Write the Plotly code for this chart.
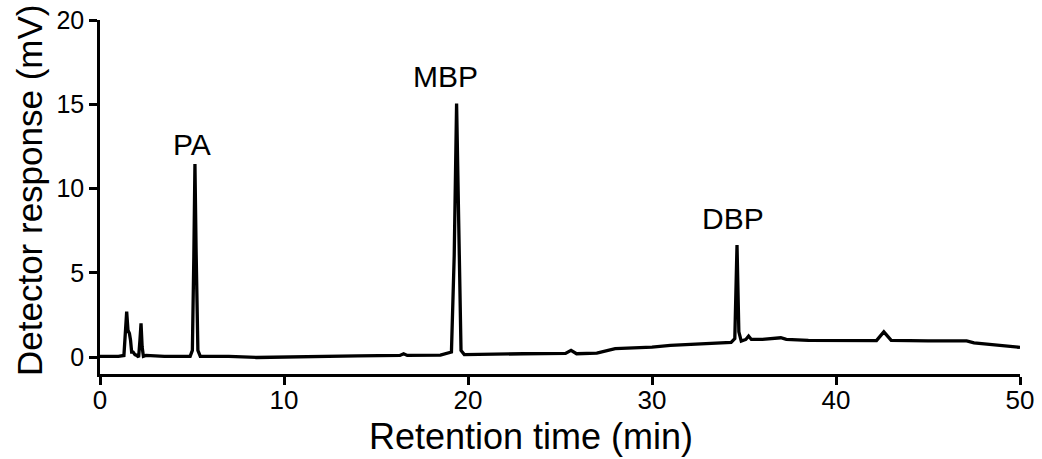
import plotly.graph_objects as go

# Chromatogram trace (retention time in min, detector response in mV)
retention_time = [0.0, 1.0, 1.3, 1.38, 1.45, 1.52, 1.6, 1.66, 1.72, 1.8, 1.9, 2.0, 2.1,
                  2.17, 2.23, 2.29, 2.36, 2.5, 3.5, 4.9, 5.02, 5.1, 5.16, 5.22, 5.32,
                  5.45, 7.0, 8.5, 10.0, 12.0, 14.0, 16.3, 16.5, 16.7, 18.5, 19.1, 19.25,
                  19.38, 19.5, 19.62, 19.8, 21.0, 23.0, 25.3, 25.6, 25.9, 27.0, 28.0,
                  28.5, 30.0, 31.0, 32.5, 33.7, 34.3, 34.5, 34.62, 34.72, 34.85, 35.1,
                  35.25, 35.4, 36.0, 37.0, 37.3, 38.5, 40.0, 42.2, 42.6, 43.0, 45.0,
                  47.1, 47.5, 48.2, 49.0, 50.0]
response_mv = [0.05, 0.05, 0.1, 1.5, 2.7, 1.6, 1.4, 1.0, 0.3, 0.3, 0.15, 0.1, 0.0,
               1.0, 2.0, 0.6, 0.05, 0.1, 0.05, 0.05, 0.4, 6.0, 11.45, 6.5, 0.4,
               0.05, 0.05, -0.02, 0.02, 0.05, 0.08, 0.1, 0.2, 0.1, 0.12, 0.3, 6.0,
               15.05, 6.5, 0.4, 0.15, 0.18, 0.2, 0.22, 0.4, 0.2, 0.24, 0.5,
               0.52, 0.6, 0.7, 0.8, 0.88, 0.88, 1.1, 6.65, 1.5, 0.95, 1.05,
               1.25, 1.05, 1.05, 1.15, 1.05, 1.0, 0.98, 0.98, 1.5, 1.0, 0.97,
               0.97, 0.85, 0.78, 0.68, 0.58]

peak_labels = ["PA", "MBP", "DBP"]
label_x = [5.0, 18.8, 34.4]
label_y = [12.6, 16.63, 8.2]

x_ticks = [0, 10, 20, 30, 40, 50]
y_ticks = [0, 5, 10, 15, 20]

FONT = "Liberation Sans, Arial, sans-serif"

fig = go.Figure()
fig.add_trace(go.Scatter(x=retention_time, y=response_mv, mode="lines",
                         line=dict(color="black", width=3.3), showlegend=False,
                         hoverinfo="skip"))

for lab, lx, ly in zip(peak_labels, label_x, label_y):
    fig.add_annotation(x=lx, y=ly, xref="x", yref="y", text=lab, showarrow=False,
                       xanchor="center", yanchor="middle",
                       font=dict(family=FONT, size=30, color="black"))

fig.add_annotation(x=-0.076, y=0.52, xref="paper", yref="paper", textangle=-90,
                   xanchor="center", yanchor="middle",
                   text="Detector response (mV)", showarrow=False,
                   font=dict(family=FONT, size=35, color="black"))
fig.add_annotation(x=0.468, y=-0.176, xref="paper", yref="paper",
                   xanchor="center", yanchor="middle",
                   text="Retention time (min)", showarrow=False,
                   font=dict(family=FONT, size=36, color="black"))

fig.update_xaxes(range=[0, 50], tickvals=x_ticks, ticks="outside", ticklen=8,
                 tickwidth=2.5, tickcolor="black", showline=True, linewidth=2.5,
                 linecolor="black", showgrid=False, zeroline=False, automargin=False,
                 ticklabelstandoff=-7,
                 tickfont=dict(family=FONT, size=26, color="black"))
fig.update_yaxes(range=[-1, 20], tickvals=y_ticks, ticks="outside", ticklen=8,
                 tickwidth=2.5, tickcolor="black", showline=True, linewidth=2.5,
                 linecolor="black", showgrid=False, zeroline=False, automargin=False,
                 tickfont=dict(family=FONT, size=25, color="black"))

fig.update_layout(width=1042, height=459, plot_bgcolor="white", paper_bgcolor="white",
                  margin=dict(l=100, r=22, t=20, b=85))

fig.write_html("out.html", config={"displayModeBar": False},
               post_script="document.body.style.margin='0px';document.body.style.overflow='hidden';")
